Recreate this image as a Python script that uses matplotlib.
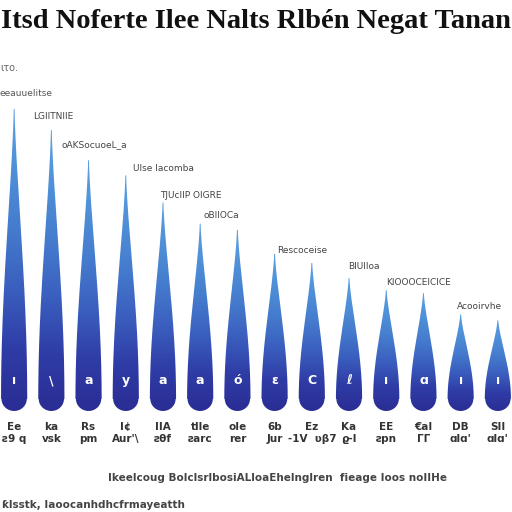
import matplotlib
matplotlib.use("Agg")
import matplotlib.pyplot as plt
import numpy as np
from matplotlib.path import Path
from matplotlib.patches import PathPatch
from matplotlib.colors import LinearSegmentedColormap

# data (drop heights, arbitrary units)
values = [100, 93, 83, 78, 69, 62, 60, 52, 49, 44, 40, 39, 32, 30]
row1 = ["Ee", "ka", "Rs", "I¢", "IIA", "tlle", "oIe", "6b", "Ez", "Ka", "EE", "€aI", "DB", "SII"]
row2 = ["ƨ9 q", "vsk", "pm", "Aur'\\", "ƨθf", "ƨarc", "rer", "Jur", "-1V  ʋβ7", "ϱ-l",
        "ƨpn", "ΓΓ", "ɑlɑ'", "ɑlɑ'"]
glyphs = ["ı", "\\", "a", "y", "a", "a", "ó", "ε", "C", "ℓ", "ı", "ɑ", "ı", "ı"]
tip_labels = ["LGIITNIIE", "oAKSocuoeL_a", None, "Ulse lacomba", "TJUcIIP OIGRE",
              "oBIIOCa", None, "Rescoceise", None, "BIUIIoa", "KIOOOCEICICE", None,
              "Acooirvhe", None]
# label offsets from the tip, in pixels
tip_offsets = [(19, -8), (10, -15), None, (7, 7), (-3, 7), (3, 8), None, (3, 3), None,
               (-1, 12), (0, 8), None, (-4, 8), None]

title = "Itsd Noferte Ilee Nalts Rlbén Negat Tanan"
xlabel = "Ikeelcoug BolclsrlbosiALloaEhelnglren  fieage Ioos noIIHe"
footnote = "ƙlsstk, Iaoocanhdhcfrmayeatth"

fig = plt.figure(figsize=(5.12, 5.12), dpi=100)
fig.patch.set_facecolor("white")
ax = fig.add_axes([0, 101 / 512, 1, 351 / 512])
ax.set_xlim(-0.38, 13.38)
ax.set_ylim(0, 116.2)
for s in ax.spines.values():
    s.set_visible(False)
ax.set_yticks([])

cmap = LinearSegmentedColormap.from_list(
    "drop", ["#2a2d94", "#2f3ca6", "#3a5ebe", "#457bcd", "#4f90d8", "#5aa0e2"])
grad = np.linspace(0, 1, 256).reshape(-1, 1)

hw = 0.34   # half width of the bulb (x units)
ry = 4.0    # radius of the round bottom (y units)
for i, v in enumerate(values):
    th = np.linspace(-np.pi / 2, 0, 30)
    xb = hw * np.cos(th)
    yb = ry + ry * np.sin(th)
    yy = np.linspace(ry, v, 100)
    sfrac = (yy - ry) / (v - ry)
    xs = hw * np.cos(np.pi / 2 * sfrac) ** 1.4 + 0.012
    xr = np.concatenate([xb, xs])
    yr = np.concatenate([yb, yy])
    px = np.concatenate([i + xr, (i - xr)[::-1]])
    py = np.concatenate([yr, yr[::-1]])
    patch = PathPatch(Path(np.column_stack([px, py])), facecolor="none", edgecolor="none")
    ax.add_patch(patch)
    im = ax.imshow(grad, cmap=cmap, origin="lower", aspect="auto",
                   extent=[i - 0.5, i + 0.5, 0, v], zorder=2)
    im.set_clip_path(patch)
    ax.text(i, 10, glyphs[i], color="white", ha="center", va="center",
            fontsize=9, fontweight="bold", zorder=3)
    if tip_labels[i]:
        ax.annotate(tip_labels[i], xy=(i, v), xytext=tip_offsets[i],
                    textcoords="offset pixels", ha="left", va="center",
                    fontsize=6.5, color="#444444")

ax.set_xticks(range(len(values)))
ax.set_xticklabels([a + "\n" + b for a, b in zip(row1, row2)], fontsize=7.5,
                   color="#333333", fontweight="bold")
ax.tick_params(axis="x", length=0, pad=8)

fig.text(0.5, 1 - 22 / 512, title, ha="center", va="center", fontsize=20.5,
         family="Liberation Serif", fontweight="bold", color="#111111")
fig.text(0.0, 1 - 68 / 512, "ιτο.", ha="left", va="center", fontsize=7, color="#666666")
fig.text(0.0, 1 - 94 / 512, "eeauuelitse", ha="left", va="center", fontsize=6.5, color="#555555")
fig.text(278 / 512, 1 - 478 / 512, xlabel, ha="center", va="center", fontsize=7.5,
         fontweight="bold", color="#444444")
fig.text(0.004, 1 - 505 / 512, footnote, ha="left", va="center", fontsize=7.5,
         fontweight="bold", color="#444444")

fig.savefig("out.png", dpi=100)
